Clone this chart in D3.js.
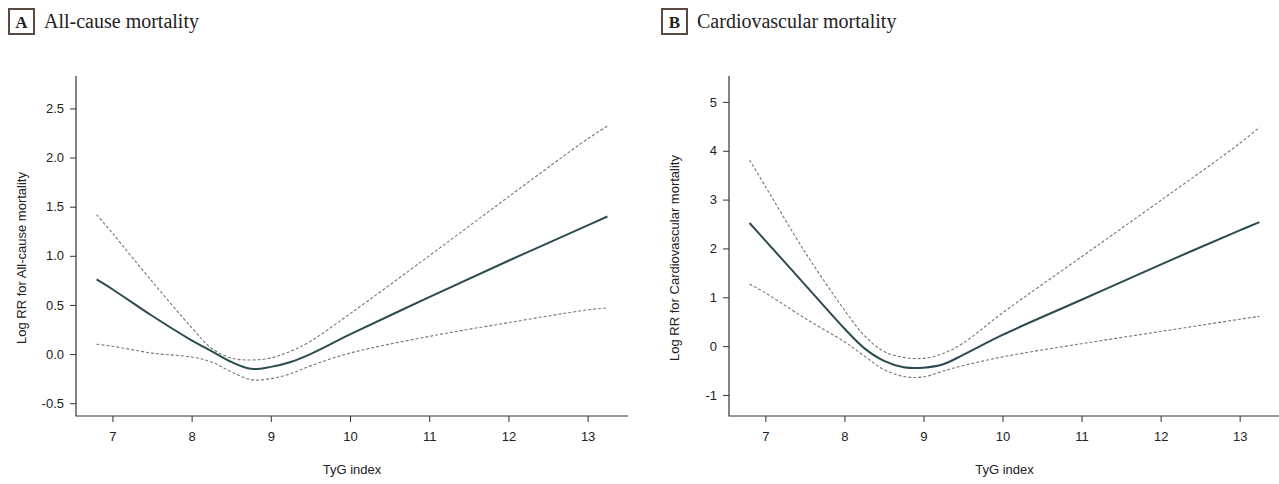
<!DOCTYPE html>
<html>
<head>
<meta charset="utf-8">
<script src="https://cdn.jsdelivr.net/npm/d3@7"></script>
<style>
body{margin:0;background:#fff;}
svg text{font-family:"Liberation Sans",Arial,sans-serif;fill:#222;}
.ttl{font-family:"Liberation Serif","Times New Roman",serif;}
</style>
</head>
<body>
<svg id="chart" width="1279" height="484"></svg>
<script>
// TyG index grid shared by all curves
var tyg = [6.8, 7.0, 7.5, 8.0, 8.25, 8.5, 8.75, 9.0, 9.25, 9.5, 10, 11, 12, 13, 13.25];

var allMain  = [0.76, 0.66, 0.39, 0.14, 0.03, -0.08, -0.15, -0.13, -0.08, 0.0, 0.20, 0.58, 0.95, 1.31, 1.40];
var allUpper = [1.42, 1.23, 0.74, 0.27, 0.06, -0.04, -0.06, -0.04, 0.03, 0.13, 0.41, 1.0, 1.6, 2.19, 2.32];
var allLower = [0.10, 0.08, 0.01, -0.03, -0.08, -0.18, -0.26, -0.25, -0.20, -0.12, 0.01, 0.18, 0.32, 0.45, 0.47];

var cvdMain  = [2.52, 2.16, 1.26, 0.36, -0.04, -0.30, -0.43, -0.44, -0.37, -0.18, 0.23, 0.95, 1.67, 2.37, 2.54];
var cvdUpper = [3.81, 3.27, 1.93, 0.74, 0.22, -0.11, -0.23, -0.25, -0.15, 0.06, 0.68, 1.83, 2.98, 4.15, 4.48];
var cvdLower = [1.27, 1.09, 0.57, 0.09, -0.20, -0.48, -0.62, -0.63, -0.51, -0.40, -0.22, 0.05, 0.30, 0.55, 0.61];

var xTicks = [7, 8, 9, 10, 11, 12, 13];
var allTicks = [-0.5, 0, 0.5, 1.0, 1.5, 2.0, 2.5];
var cvdTicks = [-1, 0, 1, 2, 3, 4, 5];

var svg = d3.select("#chart");

function hyph(f){ return function(d){ return f(d).replace("\u2212", "-"); }; }

function drawPanel(opt){
    var g = svg.append("g");
    var x = d3.scaleLinear().domain([6.54, 13.51]).range([opt.left, opt.right]);
    var y = d3.scaleLinear().domain(opt.ydom).range([416, 76]);

    // title with letter box
    g.append("rect").attr("x", opt.boxX).attr("y", 9).attr("width", 25).attr("height", 25)
        .attr("fill", "#fff").attr("stroke", "#5b4a42").attr("stroke-width", 2);
    g.append("text").attr("class", "ttl").attr("x", opt.boxX + 12.5).attr("y", 28)
        .attr("text-anchor", "middle").style("font-weight", "bold").style("font-size", "17px")
        .text(opt.letter);
    g.append("text").attr("class", "ttl").attr("x", opt.boxX + 35).attr("y", 28)
        .style("font-size", "20px").text(opt.title);

    var xAxis = g.append("g").attr("transform", "translate(0,416)")
        .call(d3.axisBottom(x).tickValues(xTicks).tickSize(6).tickPadding(10).tickFormat(d3.format("d")));
    var yAxis = g.append("g").attr("transform", "translate(" + opt.left + ",0)")
        .call(d3.axisLeft(y).tickValues(opt.yticks).tickSize(6).tickPadding(6).tickFormat(hyph(opt.fmt)));
    [xAxis, yAxis].forEach(function(a){
        a.select(".domain").attr("d", null);
        a.selectAll("line").attr("stroke", "#333");
        a.selectAll("text").style("font-size", "13px").attr("fill", "#222");
    });
    // L-shaped frame
    g.append("path").attr("d", "M" + opt.left + ",76V416H" + opt.right)
        .attr("fill", "none").attr("stroke", "#333").attr("stroke-width", 1.2);

    g.append("text").attr("x", (opt.left + opt.right) / 2).attr("y", 474)
        .attr("text-anchor", "middle").style("font-size", "13px").text("TyG index");
    g.append("text").attr("transform", "translate(" + (opt.left - 50) + "," + 258 + ") rotate(-90)")
        .attr("text-anchor", "middle").style("font-size", "13px").text(opt.ylab);

    var line = d3.line().x(function(d){ return x(d[0]); }).y(function(d){ return y(d[1]); })
        .curve(d3.curveCatmullRom.alpha(0.5));
    [opt.upper, opt.lower].forEach(function(s){
        g.append("path").datum(d3.zip(tyg, s)).attr("d", line)
            .attr("fill", "none").attr("stroke", "#777").attr("stroke-width", 1.1)
            .attr("stroke-dasharray", "3,2");
    });
    g.append("path").datum(d3.zip(tyg, opt.main)).attr("d", line)
        .attr("fill", "none").attr("stroke", "#2d4a52").attr("stroke-width", 2);
}

drawPanel({left: 76, right: 628, ydom: [-0.63, 2.83], yticks: allTicks, fmt: d3.format(".1f"),
    main: allMain, upper: allUpper, lower: allLower, letter: "A", title: "All-cause mortality",
    boxX: 9, ylab: "Log RR for All-cause mortality"});
drawPanel({left: 729, right: 1280, ydom: [-1.43, 5.53], yticks: cvdTicks, fmt: d3.format("d"),
    main: cvdMain, upper: cvdUpper, lower: cvdLower, letter: "B", title: "Cardiovascular mortality",
    boxX: 662, ylab: "Log RR for Cardiovascular mortality"});
</script>
</body>
</html>
